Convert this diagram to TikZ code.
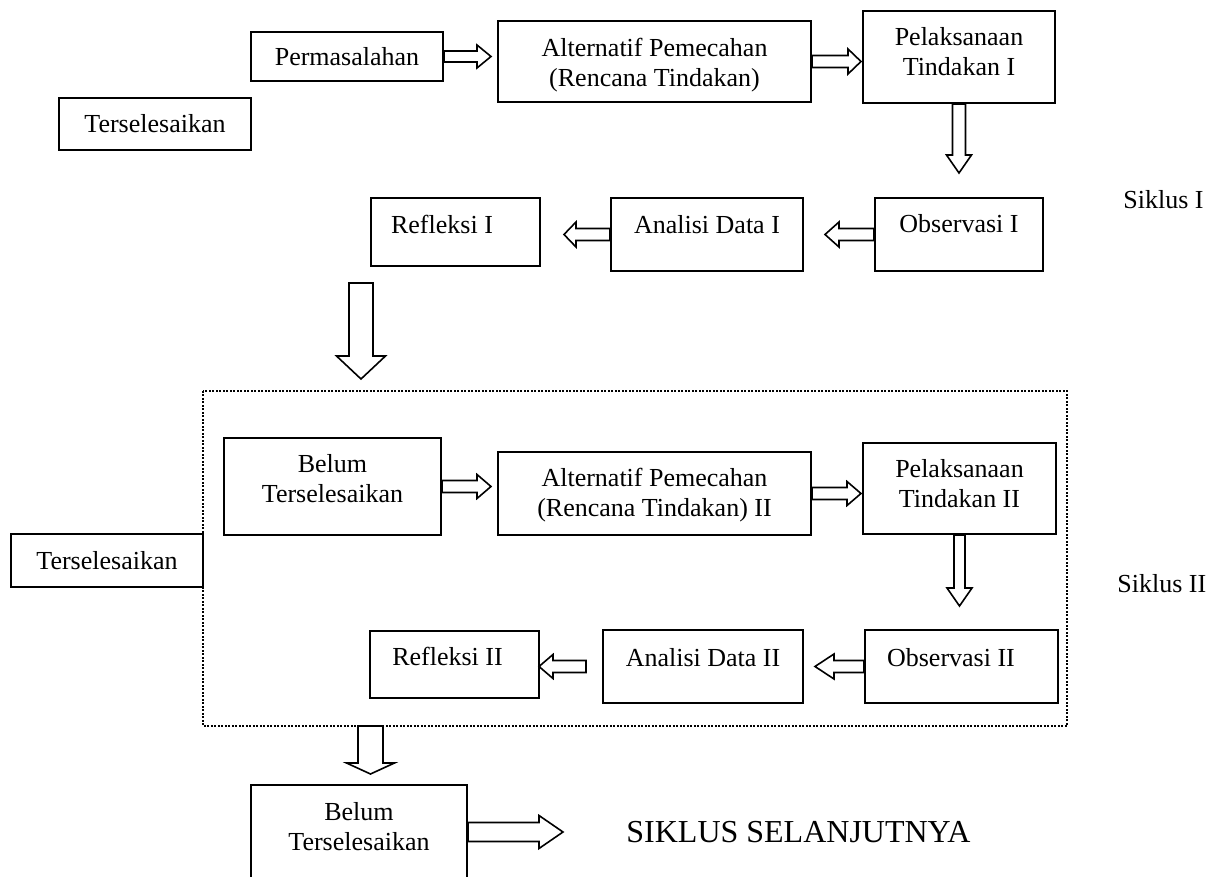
\documentclass[tikz,border=0pt]{standalone}
\usepackage{fontspec}
\setmainfont{Liberation Serif}
\usetikzlibrary{calc}

\newcommand{\duabaris}[2]{\begin{tabular}[t]{@{}c@{}}#1\\#2\end{tabular}}

\begin{document}
\begin{tikzpicture}[x=0.5pt,y=-0.5pt]
		\tikzset{
			kotak/.style={draw,line width=1pt,inner sep=0pt,font=\fontsize{13}{15}\selectfont},  %box of one step.
			satu/.style={text height=9pt,text depth=0pt},            %one line, centred.
			naik/.style={text height=9pt,text depth=#1},             %text raised in its box.
			teks/.style={inner sep=0pt,font=\fontsize{13}{15}\selectfont},
			panah/.style={draw,line width=0.8pt,fill=white,line join=miter},
			titik/.style={line width=1pt,dash pattern=on 0.9pt off 0.85pt}
		}
		% Block arrow: from, to, shaft half width, head half width, head length.
		\def\blokpanah#1#2#3#4#5{
			\path (#1) coordinate (pa) (#2) coordinate (pb);
			\path ($(pb)!#5!(pa)$) coordinate (pn);
			\draw[panah] ($(pa)!#3!90:(pb)$) -- ($(pn)!#3!-90:(pa)$) -- ($(pn)!#4!-90:(pa)$) -- (pb)
				-- ($(pn)!#4!90:(pa)$) -- ($(pn)!#3!90:(pa)$) -- ($(pa)!#3!-90:(pb)$) -- cycle;
		}
		\useasboundingbox (0,0) rectangle (1223,877);
		\clip (0,0) rectangle (1223,877);

		% Siklus I
		\node[kotak,satu,minimum width=96pt,minimum height=26pt] (sel1) at (155,124) {Terselesaikan};
		\node[kotak,satu,minimum width=96pt,minimum height=24.5pt] (perm) at (347,56.5) {Permasalahan};
		\node[kotak,naik=13.5pt,minimum width=156.5pt,minimum height=40.5pt] (alt1) at (654.5,61.5) {\duabaris{Alternatif Pemecahan}{(Rencana Tindakan)}};
		\node[kotak,naik=20pt,minimum width=96pt,minimum height=46pt] (pel1) at (959,57) {\duabaris{Pelaksanaan}{Tindakan I}};
		\node[kotak,naik=10.5pt,minimum width=84pt,minimum height=36.5pt] (obs1) at (959,234.5) {Observasi I};
		\node[kotak,naik=9.5pt,minimum width=96pt,minimum height=36.5pt] (ana1) at (707,234.5) {Analisi Data I};
		\node[kotak,naik=7pt,minimum width=84.5pt,minimum height=34pt] (ref1) at (455.5,232) {Refleksi I\rule{13.5pt}{0pt}};
		\node[teks,anchor=base west] (sik1) at (1123,209) {Siklus I};

		% Siklus II, inside the dotted frame.
		\coordinate (bingkai1) at (203,391);
		\coordinate (bingkai2) at (1067,726);
		\draw[titik] (bingkai1) rectangle (bingkai2);
		\node[kotak,naik=22.5pt,minimum width=108.5pt,minimum height=48.5pt] (bel2) at (332.5,486.5) {\duabaris{Belum}{Terselesaikan}};
		\node[kotak,naik=15.5pt,minimum width=156.5pt,minimum height=41.5pt] (alt2) at (654.5,493.5) {\duabaris{Alternatif Pemecahan}{(Rencana Tindakan) II}};
		\node[kotak,naik=19.5pt,minimum width=96.5pt,minimum height=45.5pt] (pel2) at (959.5,488.5) {\duabaris{Pelaksanaan}{Tindakan II}};
		\node[kotak,satu,minimum width=96pt,minimum height=26.5pt] (sel2) at (107,560.5) {Terselesaikan};
		\node[kotak,naik=8.5pt,minimum width=96.5pt,minimum height=36.5pt] (obs2) at (961.5,666.5) {Observasi II\rule{10.5pt}{0pt}};
		\node[kotak,naik=8.5pt,minimum width=100pt,minimum height=36.5pt] (ana2) at (703,666.5) {Analisi Data II};
		\node[kotak,naik=7.5pt,minimum width=84.5pt,minimum height=33.5pt] (ref2) at (454.5,664.5) {Refleksi II\rule{7pt}{0pt}};
		\node[teks,anchor=base west] (sik2) at (1117,593) {Siklus II};

		% Next cycle
		\node[kotak,anchor=north,minimum width=108pt,text height=17.5pt,text depth=50pt] (bel3) at (359,784)
			{\duabaris{Belum}{Terselesaikan}};
		\node[teks,anchor=base west,font=\fontsize{16}{19}\selectfont] (lanjut) at (626,842) {SIKLUS SELANJUTNYA};

		% Free ends of the arrows.
		\coordinate (ref1bawah) at (361,283);
		\coordinate (bingkaiatas) at (361,379);
		\coordinate (bingkaibawah) at (370.5,726);
		\coordinate (bel3atas) at (370.5,774);
		\coordinate (bel3kanan) at ($(bel3.north east)+(0,48)$);

		% Arrows
		\blokpanah{perm.east}{$(perm.east -| alt1.west)+(-6,0)$}{2.75pt}{5.75pt}{7pt}
		\blokpanah{alt1.east}{$(alt1.east -| pel1.west)+(-1,0)$}{3pt}{6.25pt}{6.5pt}
		\blokpanah{pel1.south}{$(pel1.south |- obs1.north)+(0,-24)$}{3.25pt}{6.25pt}{9pt}
		\blokpanah{obs1.west}{$(obs1.west -| ana1.east)+(21,0)$}{3pt}{6.25pt}{7pt}
		\blokpanah{ana1.west}{$(ana1.west -| ref1.east)+(23,0)$}{3pt}{6.25pt}{6pt}
		\blokpanah{ref1bawah}{bingkaiatas}{6pt}{12.25pt}{11.5pt}
		\blokpanah{bel2.east}{$(bel2.east -| alt2.west)+(-6,0)$}{3pt}{6pt}{7pt}
		\blokpanah{alt2.east}{$(alt2.east -| pel2.west)+(-1,0)$}{3pt}{6pt}{7pt}
		\blokpanah{pel2.south}{$(pel2.south |- obs2.north)+(0,-23)$}{2.75pt}{6.25pt}{9pt}
		\blokpanah{obs2.west}{$(obs2.west -| ana2.east)+(11,0)$}{3pt}{6.25pt}{9.5pt}
		\blokpanah{$(ana2.west)+(-16,0)$}{$(ana2.west -| ref2.east)+(-1,0)$}{3pt}{6pt}{7pt}
		\blokpanah{bingkaibawah}{bel3atas}{6.25pt}{12pt}{5.5pt}
		\blokpanah{bel3kanan}{$(bel3kanan -| lanjut.west)+(-63,0)$}{4.75pt}{8.25pt}{12pt}
\end{tikzpicture}
\end{document}
